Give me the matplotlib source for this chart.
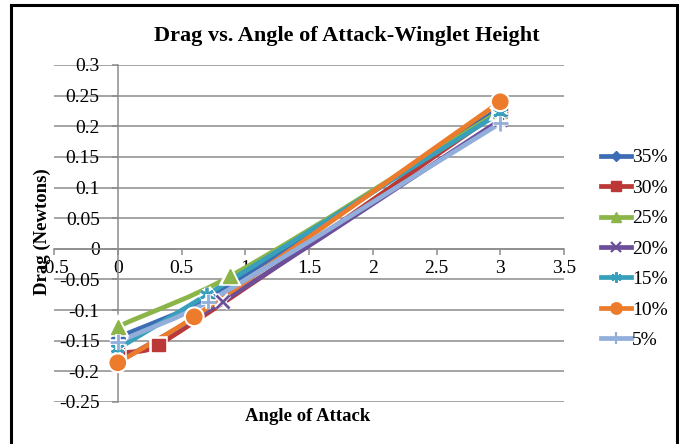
import numpy as np
import matplotlib.pyplot as plt
import matplotlib.patheffects as pe
from matplotlib.path import Path
from matplotlib.patches import PathPatch, Rectangle
from matplotlib.lines import Line2D

plt.rcParams["font.family"] = ["Liberation Serif", "DejaVu Serif"]

# data
labels = ["35%", "30%", "25%", "20%", "15%", "10%", "5%"]
angle_35 = [0, 0.72, 3]
drag_35 = [-0.145, -0.078, 0.23]
angle_30 = [0, 0.32, 3]
drag_30 = [-0.171, -0.157, 0.225]
angle_25 = [0, 0.88, 3]
drag_25 = [-0.127, -0.045, 0.225]
angle_20 = [0, 0.82, 3]
drag_20 = [-0.185, -0.086, 0.21]
angle_15 = [0, 0.7, 3]
drag_15 = [-0.163, -0.075, 0.222]
angle_10 = [0, 0.6, 3]
drag_10 = [-0.186, -0.111, 0.24]
angle_5 = [0, 0.71, 3]
drag_5 = [-0.152, -0.086, 0.205]

x_ticks = [-0.5, 0, 0.5, 1, 1.5, 2, 2.5, 3, 3.5]
x_tick_labels = ["-0.5", "0", "0.5", "1", "1.5", "2", "2.5", "3", "3.5"]
y_ticks = [0.3, 0.25, 0.2, 0.15, 0.1, 0.05, 0, -0.05, -0.1, -0.15, -0.2, -0.25]
y_tick_labels = ["0.3", "0.25", "0.2", "0.15", "0.1", "0.05", "0",
                 "-0.05", "-0.1", "-0.15", "-0.2", "-0.25"]

series = [
    (angle_35, drag_35, "#3b6cb4", "D", 7),
    (angle_30, drag_30, "#bb3836", "s", 9),
    (angle_25, drag_25, "#8bb548", "^", 10),
    (angle_20, drag_20, "#6c4f99", "x", 9),
    (angle_15, drag_15, "#38a0bb", (6, 2, 0), 10),
    (angle_10, drag_10, "#ec7c2c", "o", 11),
    (angle_5, drag_5, "#92aedb", "+", 11),
]


def smooth_path(xs, ys):
    # cubic bezier through the points, tangents from neighbouring secants
    xs = np.asarray(xs, float)
    ys = np.asarray(ys, float)
    n = len(xs)
    m = np.zeros(n)
    for i in range(n):
        lo = max(i - 1, 0)
        hi = min(i + 1, n - 1)
        m[i] = (ys[hi] - ys[lo]) / (xs[hi] - xs[lo])
    verts = [(xs[0], ys[0])]
    codes = [Path.MOVETO]
    for i in range(n - 1):
        dx = xs[i + 1] - xs[i]
        verts += [(xs[i] + dx / 3, ys[i] + m[i] * dx / 3),
                  (xs[i + 1] - dx / 3, ys[i + 1] - m[i + 1] * dx / 3),
                  (xs[i + 1], ys[i + 1])]
        codes += [Path.CURVE4] * 3
    return Path(verts, codes)


fig = plt.figure(figsize=(6.79, 4.44), dpi=100)
ax = fig.add_axes([54 / 679, 1 - 402 / 444, (564 - 54) / 679, (402 - 65) / 444])

ax.set_xlim(-0.5, 3.5)
ax.set_ylim(-0.25, 0.3)
grid_c = "#8c8c8c"
for yv in y_ticks:
    ax.axhline(yv, color=grid_c, lw=1.1, zorder=0)

for s in ["top", "right"]:
    ax.spines[s].set_visible(False)
ax.spines["left"].set_position(("data", 0))
ax.spines["bottom"].set_position(("data", 0))
ax.spines["left"].set_color(grid_c)
ax.spines["bottom"].set_color(grid_c)
ax.spines["left"].set_linewidth(1.1)
ax.spines["bottom"].set_linewidth(1.1)

ax.set_xticks(x_ticks)
ax.set_xticklabels(x_tick_labels)
ax.set_yticks(y_ticks)
ax.set_yticklabels(y_tick_labels)
ax.tick_params(axis="both", colors=grid_c, labelcolor="black", labelsize=14,
               direction="out", length=4, width=1.1)
ax.tick_params(axis="y", pad=9)
ax.tick_params(axis="x", pad=4)

for xs, ys, col, mk, ms in series:
    ax.add_patch(PathPatch(smooth_path(xs, ys), fill=False, edgecolor=col,
                           lw=3.4, capstyle="butt", zorder=3))

glow = [pe.withStroke(linewidth=4, foreground="white")]
for xs, ys, col, mk, ms in series:
    mew = 2 if mk in ["x", "+", (6, 2, 0)] else 1
    ax.plot(xs, ys, linestyle="none", marker=mk, markersize=ms, color=col,
            markeredgewidth=mew, zorder=5, path_effects=glow)

handles = []
for (xs, ys, col, mk, ms), lab in zip(series, labels):
    mew = 1.6 if mk in ["x", "+", (6, 2, 0)] else 1
    handles.append(Line2D([], [], color=col, lw=3.4, marker=mk,
                          markersize=ms * 0.75, markeredgewidth=mew, label=lab))
fig.legend(handles=handles, loc="center left", frameon=False,
           bbox_to_anchor=(593 / 679, 1 - 249 / 444), fontsize=14,
           handlelength=1.55, handletextpad=0.05, labelspacing=0.66,
           borderaxespad=0)

fig.text(347 / 679, 1 - 36 / 444, "Drag vs. Angle of Attack-Winglet Height",
         ha="center", va="center", fontsize=16, fontweight="bold")
fig.text(308 / 679, 1 - 416 / 444, "Angle of Attack",
         ha="center", va="center", fontsize=13.5, fontweight="bold")
fig.text(42 / 679, 1 - 232 / 444, "Drag (Newtons)", rotation=90,
         ha="center", va="center", fontsize=13.5, fontweight="bold")

fig.patches.append(Rectangle((11 / 679, -0.05), (677 - 11) / 679, 1.05 - 5 / 444,
                             transform=fig.transFigure, fill=False,
                             edgecolor="black", lw=2.2, zorder=10))

fig.savefig("out.png", dpi=100)
